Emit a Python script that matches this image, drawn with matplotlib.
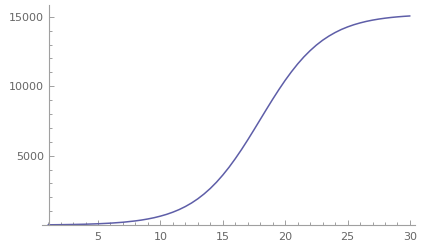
#!/usr/bin/env python3
# Logistic growth curve, Mathematica-style axes
import matplotlib
matplotlib.use('Agg')
import matplotlib.pyplot as plt
from matplotlib.ticker import MultipleLocator

# values (denser where it bends)
x = [1, 2, 3, 4, 5, 6, 7, 8, 8.5, 9, 9.5, 10, 10.5, 11, 11.5, 12, 12.5, 13, 13.5,
     14, 14.5, 15, 15.5, 16, 16.5, 17, 17.5, 18, 18.5, 19, 19.5, 20, 20.5, 21, 21.5,
     22, 22.5, 23, 23.5, 24, 24.5, 25, 25.5, 26, 26.5, 27, 27.5, 28, 28.5, 29, 29.5, 30]
y = [20, 30, 44, 64, 95, 140, 205, 302, 365, 442, 533, 644, 774, 931, 1116, 1336, 1593, 1893, 2242,
     2639, 3092, 3602, 4163, 4780, 5438, 6136, 6862, 7600, 8338, 9064, 9762, 10425, 11038, 11603, 12112,
     12562, 12962, 13310, 13608, 13865, 14086, 14270, 14427, 14557, 14668, 14759, 14836, 14899, 14952, 14995, 15031, 15060]
x_ticks = [5, 10, 15, 20, 25, 30]
y_ticks = [5000, 10000, 15000]

axis_col = '#a0a0a0'
label_col = '#666666'

fig = plt.figure(figsize=(4.30, 2.49), dpi=100)
ax = fig.add_axes([0.097, 0.096, 0.868, 0.884])

ax.plot(x, y, color='#5e5ea8', linewidth=1.1, solid_capstyle='round')

ax.set_xlim(0.49, 30.4)
ax.set_ylim(0, 15850)

ax.spines['top'].set_visible(False)
ax.spines['right'].set_visible(False)
ax.spines['left'].set_position(('data', 1.1))
for s in ['left', 'bottom']:
    ax.spines[s].set_color(axis_col)
    ax.spines[s].set_linewidth(0.8)

ax.set_xticks(x_ticks)
ax.set_yticks(y_ticks)
ax.xaxis.set_minor_locator(MultipleLocator(1))
ax.yaxis.set_minor_locator(MultipleLocator(1000))

ax.tick_params(which='both', direction='in', color=axis_col, width=0.7,
               labelcolor=label_col, labelsize=8)
ax.tick_params(which='major', length=3.5)
ax.tick_params(which='minor', length=2)
ax.tick_params(axis='x', pad=5)
ax.tick_params(axis='y', pad=4)

fig.savefig('out.png', dpi=100)
